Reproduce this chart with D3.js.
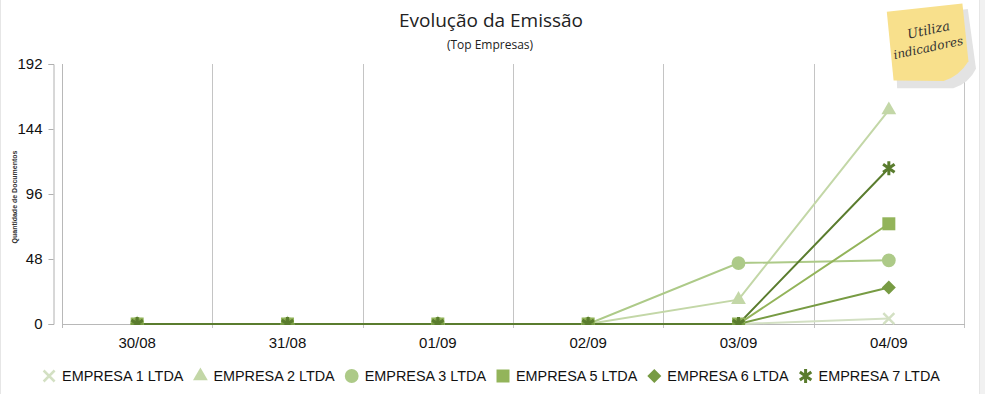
<!DOCTYPE html>
<html><head><meta charset="utf-8">
<script src="https://cdn.jsdelivr.net/npm/d3@7"></script>
<style>
html,body{margin:0;padding:0;background:#fff;}
svg{display:block;}
</style></head>
<body>
<svg id="chart" width="985" height="394"></svg>
<script>
const categories = ["30/08","31/08","01/09","02/09","03/09","04/09"];
const seriesNames = ["EMPRESA 1 LTDA","EMPRESA 2 LTDA","EMPRESA 3 LTDA","EMPRESA 5 LTDA","EMPRESA 6 LTDA","EMPRESA 7 LTDA"];
const empresa1 = [0,0,0,0,0,4];
const empresa2 = [0,0,0,0,18,158];
const empresa3 = [0,0,0,0,45,47];
const empresa5 = [0,0,0,0,0,74];
const empresa6 = [0,0,0,0,0,27];
const empresa7 = [0,0,0,0,0,115];
const yTicks = [0,48,96,144,192];
const colors = ["#d3e0c3","#c3d7a7","#adca88","#93b45a","#779b43","#5a7c2e"];
const markers = ["times","triangle","circle","square","diamond","asterisk"];
const titleText = "Evolução da Emissão";
const subtitleText = "(Top Empresas)";
const yAxisTitle = "Quantidade de Documentos";

const seriesValues = [empresa1,empresa2,empresa3,empresa5,empresa6,empresa7];
const series = seriesNames.map((n,i)=>({name:n,values:seriesValues[i],color:colors[i],marker:markers[i]}));

const svg = d3.select("#chart");
const W=985,H=394;
const plot={left:62,right:964,top:64,bottom:324};

// outer frame
svg.append("rect").attr("x",0.5).attr("y",-1).attr("width",979).attr("height",H+2)
  .attr("fill","none").attr("stroke","#e6e6e6");
svg.append("rect").attr("x",980).attr("y",0).attr("width",5).attr("height",H).attr("fill","#f1f1f1");

const x = d3.scaleBand().domain(categories).range([plot.left,plot.right]).padding(0);
const y = d3.scaleLinear().domain([0,192]).range([plot.bottom,plot.top]);

// Title
svg.append("text").attr("x",491).attr("y",27).attr("text-anchor","middle")
  .attr("font-family","'Open Sans',sans-serif").attr("font-size",19).attr("fill","#222").text(titleText);
svg.append("text").attr("x",490).attr("y",49).attr("text-anchor","middle")
  .attr("font-family","'Open Sans',sans-serif").attr("font-size",12).attr("fill","#222").text(subtitleText);

// gridlines at band boundaries
const grid = svg.append("g");
categories.forEach((c,i)=>{
  const gx = Math.round(x(c)+x.bandwidth())+0.5;
  grid.append("line").attr("x1",gx).attr("x2",gx).attr("y1",plot.top).attr("y2",plot.bottom+4)
    .attr("stroke","#c4c4c4").attr("stroke-width",1);
});
grid.append("line").attr("x1",plot.left+0.5).attr("x2",plot.left+0.5).attr("y1",plot.top).attr("y2",plot.bottom+4)
  .attr("stroke","#b8b8b8");
grid.append("line").attr("x1",plot.left).attr("x2",plot.right+1).attr("y1",plot.bottom+0.5).attr("y2",plot.bottom+0.5)
  .attr("stroke","#b8b8b8");

// y axis
const yAxis = d3.axisLeft(y).tickValues(yTicks).tickSize(5).tickSizeOuter(5).tickPadding(6);
const ya = svg.append("g").attr("transform","translate(53.5,0)").call(yAxis);
ya.select(".domain").attr("stroke","#b0b0b0");
ya.selectAll(".tick line").attr("stroke","#b0b0b0");
ya.selectAll(".tick text").attr("font-family","'Liberation Sans',Arial,sans-serif").attr("font-size",15).attr("fill","#111");

// y axis title
svg.append("text").attr("transform","translate(17,197) rotate(-90)").attr("text-anchor","middle")
  .attr("font-family","'Liberation Sans',Arial,sans-serif").attr("font-size",7).attr("font-weight","bold").attr("fill","#333")
  .text(yAxisTitle);

// x axis labels
const xAxis = d3.axisBottom(x).tickSize(0).tickPadding(13);
const xa = svg.append("g").attr("transform",`translate(0,${plot.bottom})`).call(xAxis);
xa.select(".domain").remove();
xa.selectAll(".tick text").attr("font-family","'Liberation Sans',Arial,sans-serif").attr("font-size",15).attr("fill","#111");

// custom symbols
const symTimes = {draw(ctx,size){const r=Math.sqrt(size)/2; ctx.moveTo(-r,-r);ctx.lineTo(r,r);ctx.moveTo(r,-r);ctx.lineTo(-r,r);}};
const symAst = {draw(ctx,size){const r=Math.sqrt(size)/2; ctx.moveTo(0,-r);ctx.lineTo(0,r);
  const a=Math.PI/180*35; const dx=r*Math.cos(a), dy=r*Math.sin(a);
  ctx.moveTo(-dx,-dy);ctx.lineTo(dx,dy);ctx.moveTo(dx,-dy);ctx.lineTo(-dx,dy);}};
const symDiamond = {draw(ctx,size){const r=Math.sqrt(size)/2; ctx.moveTo(0,-r);ctx.lineTo(r,0);ctx.lineTo(0,r);ctx.lineTo(-r,0);ctx.closePath();}};
function markerPath(m){
  switch(m){
    case "times": return d3.symbol().type(symTimes).size(121)();
    case "triangle": return d3.symbol().type(d3.symbolTriangle).size(95)();
    case "circle": return d3.symbol().type(d3.symbolCircle).size(150)();
    case "square": return d3.symbol().type(d3.symbolSquare).size(169)();
    case "diamond": return d3.symbol().type(symDiamond).size(196)();
    case "asterisk": return d3.symbol().type(symAst).size(196)();
  }
}
const strokeMarker = m => m==="times"||m==="asterisk";
function styleMarker(sel,s){
  if(strokeMarker(s.marker)) sel.attr("fill","none").attr("stroke",s.color).attr("stroke-width",s.marker==="asterisk"?3:2.5);
  else sel.attr("fill",s.color).attr("stroke","none");
}

// clip
svg.append("clipPath").attr("id","clip").append("rect")
  .attr("x",plot.left).attr("y",0).attr("width",plot.right-plot.left+20).attr("height",plot.bottom+1);

const linesG = svg.append("g").attr("clip-path","url(#clip)");
const line = d3.line().x((d,i)=>x(categories[i])+x.bandwidth()/2).y(d=>y(d));
series.forEach(s=>{
  linesG.append("path").datum(s.values).attr("d",line).attr("fill","none")
    .attr("stroke",s.color).attr("stroke-width",2);
});
series.forEach(s=>{
  s.values.forEach((v,i)=>{
    const p = linesG.append("path").attr("d",markerPath(s.marker))
      .attr("transform",`translate(${x(categories[i])+x.bandwidth()/2},${y(v)})`);
    styleMarker(p,s);
  });
});

// legend
const lg = svg.append("g");
let cx=0;
series.forEach((s,i)=>{
  const g = lg.append("g");
  const p = g.append("path").attr("d",markerPath(s.marker)).attr("transform",`translate(${cx+7},0)`);
  styleMarker(p,s);
  const t = g.append("text").attr("x",cx+20).attr("y",5).attr("font-family","'Liberation Sans',Arial,sans-serif")
    .attr("font-size",14.4).attr("fill","#111").text(s.name);
  const w = t.node().getComputedTextLength();
  cx += 20 + w + 10;
});
const total = cx-10;
lg.attr("transform",`translate(${491-total/2},376)`);

// sticky note
const note = svg.append("g").attr("transform","translate(927,42) rotate(-4)");
note.append("path").attr("d","M-34,-30 L40,-34 L44,26 Q36,40 20,44 L-36,40 Z").attr("fill","#e3e3e3").attr("transform","translate(3,4)");
note.append("path").attr("d","M-38,-33 L38,-36 L40,22 Q30,36 14,40 L-36,36 Z").attr("fill","#f8e08c");
note.append("text").attr("x",4).attr("y",-7).attr("text-anchor","middle").attr("font-family","'DejaVu Serif',serif")
  .attr("font-style","italic").attr("font-size",13).attr("fill","#333").attr("transform","rotate(-8)").text("Utiliza");
note.append("text").attr("x",0).attr("y",10).attr("text-anchor","middle").attr("font-family","'DejaVu Serif',serif")
  .attr("font-style","italic").attr("font-size",12).attr("fill","#333").attr("transform","rotate(-8)").text("indicadores");
</script>
</body></html>
